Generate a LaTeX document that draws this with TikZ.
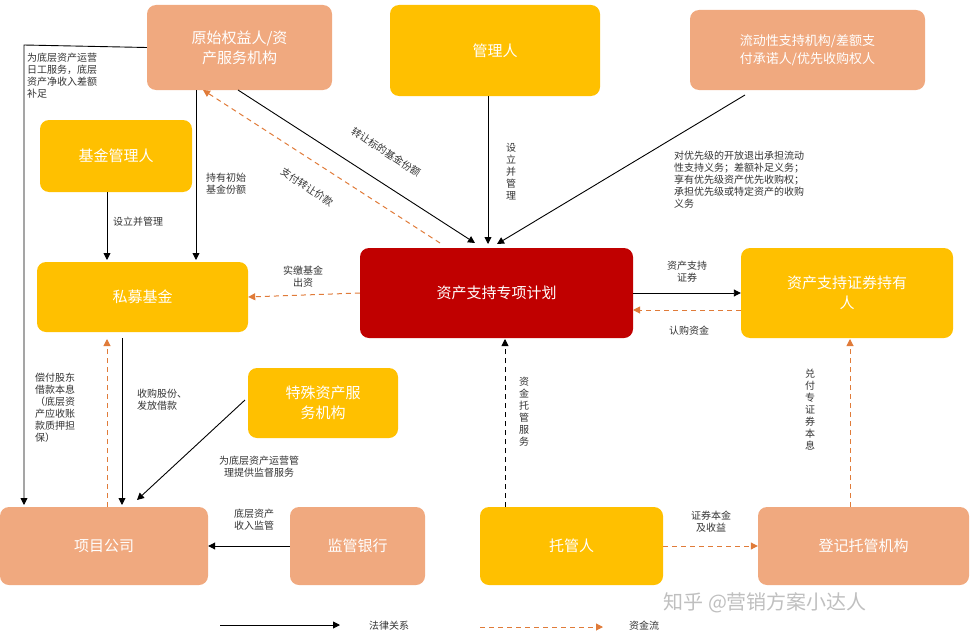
\documentclass[tikz,border=0pt]{standalone}
\usepackage{fontspec}
\setmainfont{Noto Sans CJK SC}
\usetikzlibrary{arrows.meta}
\definecolor{peach}{HTML}{F0A97F}
\definecolor{gold}{HTML}{FFC000}
\definecolor{plred}{HTML}{C00000}
\definecolor{flow}{HTML}{E07B39}
\tikzset{
  box/.style={rounded corners=9pt, inner sep=0pt, text=white, font=\fontsize{15}{20}\selectfont, align=center},
  lbl/.style={font=\fontsize{10}{12}\selectfont, text=black!80, align=left, inner sep=1pt},
  law/.style={-{Triangle[length=7pt,width=7pt]}, line width=0.9pt},
  cash/.style={-{Triangle[length=7pt,width=7pt]}, line width=1pt, dashed, dash pattern=on 5pt off 4pt, flow},
}
\begin{document}
\begin{tikzpicture}[x=1pt,y=-1pt]

\useasboundingbox (0,0) rectangle (977,642);

% boxes
\node (orig) [box, fill=peach, minimum width=185, minimum height=85] at (239.5,47.5) {原始权益人/资\\产服务机构};
\node (mgr) [box, fill=gold, minimum width=210, minimum height=91] at (495,50.5) {管理人};
\node (liq) [box, fill=peach, minimum width=235, minimum height=80, font=\fontsize{13}{18}\selectfont] at (807.5,50) {流动性支持机构/差额支\\付承诺人/优先收购权人};
\node (fundmgr) [box, fill=gold, minimum width=152, minimum height=72] at (116,156) {基金管理人};
\node (pf) [box, fill=gold, minimum width=211, minimum height=70] at (142.5,297) {私募基金};
\node (plan) [box, fill=plred, minimum width=273, minimum height=90] at (496.5,293) {资产支持专项计划};
\node (holder) [box, fill=gold, minimum width=212, minimum height=90] at (847,293) {资产支持证券持有\\人};
\node (special) [box, fill=gold, minimum width=150, minimum height=70] at (323,403) {特殊资产服\\务机构};
\node (proj) [box, fill=peach, minimum width=208, minimum height=78] at (104,546) {项目公司};
\node (bank) [box, fill=peach, minimum width=135, minimum height=78] at (357.5,546) {监管银行};
\node (cust) [box, fill=gold, minimum width=183, minimum height=78] at (571.5,546) {托管人};
\node (reg) [box, fill=peach, minimum width=211, minimum height=78] at (863.5,546) {登记托管机构};

% legal relations
\draw [law] (orig.west) -- (24,45) -- (24,505);
\node (l1) [lbl, anchor=north west] at (26,52) {为底层资产运营\\日工服务，底层\\资产净收入差额\\补足};
\draw [law] (238,90) -- (475,243);
\node (l0) [lbl, rotate=-33] at (386,152) {转让标的基金份额};
\draw [law] (196,90) -- (196,260);
\node (l2) [lbl, anchor=north west] at (205,172) {持有初始\\基金份额};
\draw [law] (107,192) -- (107,260);
\node (l3) [lbl, anchor=west] at (112,222) {设立并管理};
\draw [law] (488,96) -- (488,244);
\node (l4) [lbl, align=center] at (511,172) {设\\立\\并\\管\\理};
\draw [law] (745,95) -- (497,244);
\node (l5) [lbl, anchor=north west] at (673,150) {对优先级的开放退出承担流动\\性支持义务；差额补足义务；\\享有优先级资产优先收购权；\\承担优先级或特定资产的收购\\义务};
\draw [law] (plan.east |- 0,293) -- (holder.west |- 0,293);
\node (l6) [lbl, align=center] at (687,272) {资产支持\\证券};
\draw [law] (122,338) -- (122,505);
\node (l7) [lbl, anchor=north west] at (136,388) {收购股份、\\发放借款};
\draw [law] (245,400) -- (137,500);
\node (l8) [lbl, align=center] at (259,467) {为底层资产运营管\\理提供监督服务};
\draw [law] (bank.west) -- (proj.east);
\node (l9) [lbl, align=center] at (254,520) {底层资产\\收入监管};
\draw [law, dashed, dash pattern=on 5pt off 4pt] (505,507) -- (505,339);
\node (l10) [lbl, align=center] at (524,412) {资\\金\\托\\管\\服\\务};

% cash flows
\draw [cash] (440,243) -- (203,90);
\node (l16) [lbl, rotate=-33] at (307,187) {支付转让价款};
\draw [cash] (plan.west) -- (pf.east);
\node (l11) [lbl, align=center] at (303,277) {实缴基金\\出资};
\draw [cash] (741,310) -- (633,310);
\node (l12) [lbl] at (689,331) {认购资金};
\draw [cash] (107,507) -- (107,339);
\node (l13) [lbl, anchor=north west] at (34,372) {偿付股东\\借款本息\\（底层资\\产应收账\\款质押担\\保）};
\draw [cash] (cust.east) -- (reg.west);
\node (l14) [lbl, align=center] at (711,522) {证券本金\\及收益};
\draw [cash] (850,507) -- (850,339);
\node (l15) [lbl, align=center] at (810,410) {兑\\付\\专\\证\\券\\本\\息};

% legend
\coordinate (a1) at (220,625);
\coordinate (a2) at (340,625);
\coordinate (b1) at (480,627);
\coordinate (b2) at (603,627);
\draw [law] (a1) -- (a2);
\node (leg1) [lbl, anchor=west] at (368,626) {法律关系};
\draw [cash] (b1) -- (b2);
\node (leg2) [lbl, anchor=west] at (628,626) {资金流};

% watermark
\node (wm) [font=\fontsize{20}{24}\selectfont, text=black!25, anchor=west] at (660,603) {知乎 @营销方案小达人};

\end{tikzpicture}
\end{document}
